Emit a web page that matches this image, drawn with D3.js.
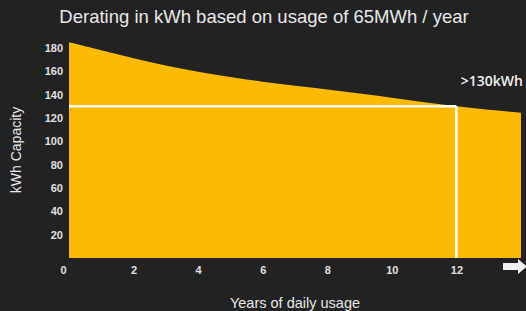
<!DOCTYPE html>
<html>
<head>
<meta charset="utf-8">
<script src="https://cdn.jsdelivr.net/npm/d3@7"></script>
<style>
  body { margin: 0; background: #222222; }
  svg { display: block; }
  .tick text { fill: #e0e0e0; font-family: "Liberation Sans", Arial, sans-serif; font-size: 11px; font-weight: bold; }
</style>
</head>
<body>
<div id="chart"></div>
<script>
var years = [0, 1, 2, 3, 4, 5, 6, 7, 8, 9, 10, 11, 12, 13, 14];
var capacity = [185, 178, 171, 165, 159.5, 155, 151, 147.5, 144.5, 141, 137.5, 133.5, 130, 127, 124.5];
var xTicks = [0, 2, 4, 6, 8, 10, 12];
var yTicks = [20, 40, 60, 80, 100, 120, 140, 160, 180];
var markYear = 12;
var markValue = 130;

var width = 526, height = 311;

var svg = d3.select("#chart").append("svg")
  .attr("width", width)
  .attr("height", height);

svg.append("rect")
  .attr("width", width)
  .attr("height", height)
  .attr("fill", "#222222");

var x = d3.scaleLinear().domain([0, 14]).range([69, 521]);
var y = d3.scaleLinear().domain([0, 180]).range([258, 48]);

var data = years.map(function(d, i) { return {year: d, value: capacity[i]}; });

var area = d3.area()
  .x(function(d) { return x(d.year); })
  .y0(y(0))
  .y1(function(d) { return y(d.value); })
  .curve(d3.curveBasis);

svg.append("path")
  .datum(data)
  .attr("d", area)
  .attr("fill", "#fcba03");

// marker lines at 12 years / 130kWh
svg.append("line")
  .attr("x1", x(0)).attr("x2", x(markYear))
  .attr("y1", y(markValue)).attr("y2", y(markValue))
  .attr("stroke", "#ffffff").attr("stroke-width", 2.5);
svg.append("line")
  .attr("x1", x(markYear)).attr("x2", x(markYear))
  .attr("y1", y(markValue)).attr("y2", y(0))
  .attr("stroke", "#ffffff").attr("stroke-width", 2.5);

// axes
var yAxis = svg.append("g")
  .attr("transform", "translate(63,0)")
  .call(d3.axisLeft(y).tickValues(yTicks).tickSize(0).tickPadding(0));
yAxis.select(".domain").remove();

var xAxis = svg.append("g")
  .attr("transform", "translate(0," + y(0) + ")")
  .call(d3.axisBottom(x).tickValues(xTicks).tickSize(0).tickPadding(8));
xAxis.select(".domain").remove();
xAxis.selectAll(".tick text")
  .attr("dx", function(d) { return d === 0 ? -6 : 0; });

// arrow at the end of x axis
svg.append("path")
  .attr("d", "M503,263 L518,263 L518,259 L527,266.5 L518,274 L518,270 L503,270 Z")
  .attr("fill", "#f0f0f0");

// texts
svg.append("text")
  .attr("x", 264).attr("y", 23)
  .attr("text-anchor", "middle")
  .attr("fill", "#e8e8e8")
  .style("font-family", "Liberation Sans, Arial, sans-serif")
  .style("font-size", "18.5px")
  .text("Derating in kWh based on usage of 65MWh / year");

svg.append("text")
  .attr("transform", "translate(21,150) rotate(-90)")
  .attr("text-anchor", "middle")
  .attr("fill", "#e8e8e8")
  .style("font-family", "Liberation Sans, Arial, sans-serif")
  .style("font-size", "14px")
  .text("kWh Capacity");

svg.append("text")
  .attr("x", 295).attr("y", 308)
  .attr("text-anchor", "middle")
  .attr("fill", "#e8e8e8")
  .style("font-family", "Liberation Sans, Arial, sans-serif")
  .style("font-size", "14.5px")
  .text("Years of daily usage");

svg.append("text")
  .attr("x", 523).attr("y", 86)
  .attr("text-anchor", "end")
  .attr("fill", "#f2f2f2")
  .style("font-family", "Open Sans, sans-serif")
  .style("font-size", "14px")
  .style("font-weight", "600")
  .text(">130kWh");
</script>
</body>
</html>
